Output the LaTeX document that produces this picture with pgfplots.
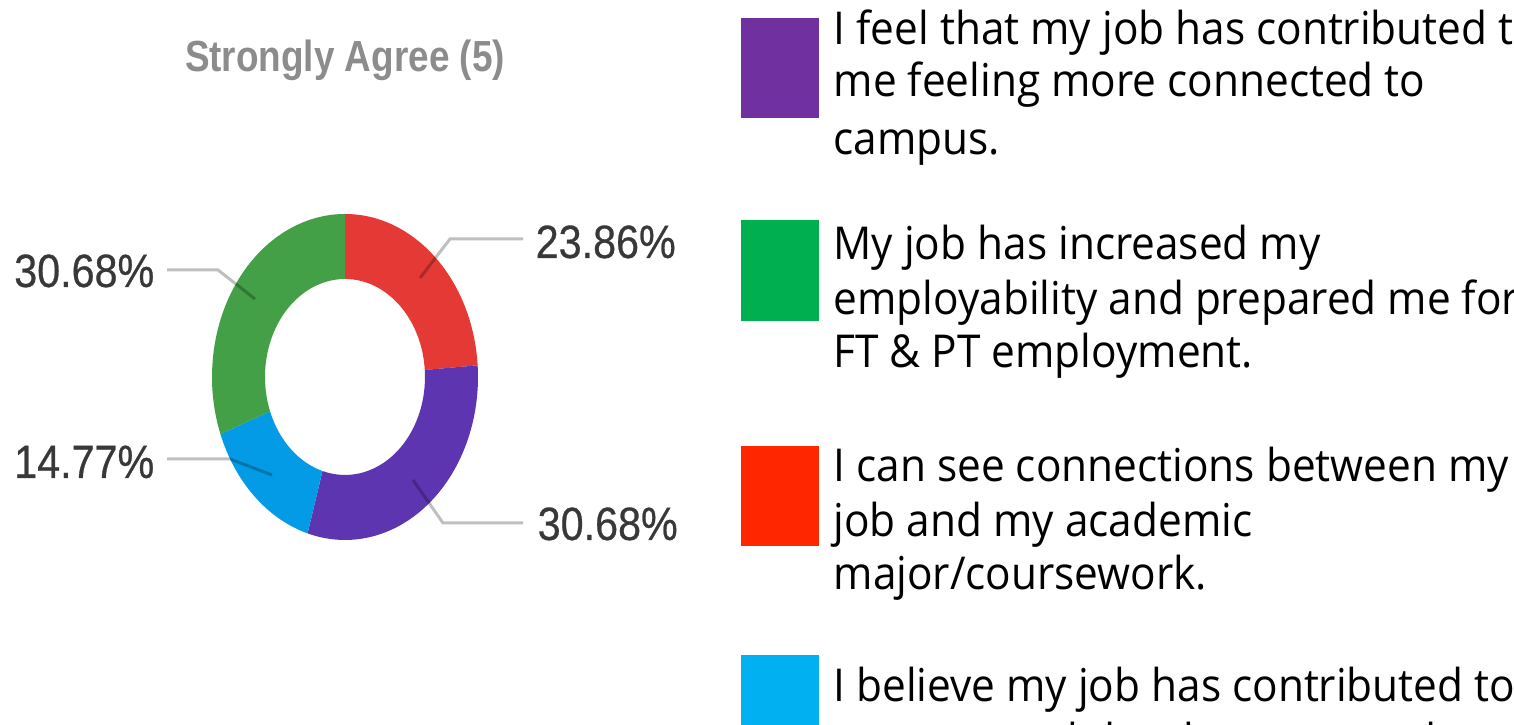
\documentclass[border=0pt]{standalone}
\usepackage{pgfplots}
\usepackage{pgfplotstable}
\pgfplotsset{compat=1.18}
\usepackage{graphicx}
\usepackage{fontspec}
\setmainfont{Open Sans}
\newfontfamily\labelfont{Liberation Sans}
\newfontfamily\pctfont[FakeBold=0.6]{Liberation Sans}

\definecolor{donutred}{HTML}{E53935}
\definecolor{donutpurple}{HTML}{5E35B1}
\definecolor{donutblue}{HTML}{039BE5}
\definecolor{donutgreen}{HTML}{43A047}
\definecolor{legpurple}{HTML}{7030A0}
\definecolor{leggreen}{HTML}{00B050}
\definecolor{legred}{HTML}{FF2600}
\definecolor{legblue}{HTML}{00B0F0}
\definecolor{pcttext}{HTML}{383838}
\definecolor{titletext}{HTML}{8C8C8C}

% shares in percent, clockwise from 12 o'clock
\pgfplotstableread{
share colour
23.86 donutred
30.68 donutpurple
14.77 donutblue
30.68 donutgreen
}\donutdata

\newcommand{\pct}[1]{{\pctfont\fontsize{11.75}{14}\selectfont\color{pcttext}\scalebox{1}[1.13]{#1}}}
\newcommand{\leg}[1]{{\fontsize{12.05}{14}\selectfont\scalebox{1}[1.07]{#1}}}

\begin{document}
\begin{tikzpicture}
\useasboundingbox (0,0) rectangle (15.14cm,7.25cm);
\clip (0,0) rectangle (15.14cm,7.25cm);
\begin{axis}[
    at={(0,0)}, anchor=south west,
    width=15.14cm, height=7.25cm, scale only axis,
    xmin=0, xmax=1514, ymin=0, ymax=725,
    hide axis, clip=false,
]
% ring segments
\pgfplotstablegetrowsof{\donutdata}
\pgfmathtruncatemacro\lastrow{\pgfplotsretval-1}
\def\cum{90}
\pgfplotsforeachungrouped \i in {0,...,\lastrow}{%
  \pgfplotstablegetelem{\i}{share}\of\donutdata \let\v\pgfplotsretval
  \pgfplotstablegetelem{\i}{colour}\of\donutdata \let\c\pgfplotsretval
  \pgfmathsetmacro\a{\cum}
  \pgfmathsetmacro\b{\cum-3.6*\v}
  \edef\temp{\noexpand\fill[\c] (axis cs:{345+133*cos(\a)},{348+163*sin(\a)})
    arc[start angle=\a, end angle=\b, x radius=133, y radius=163]
    -- (axis cs:{345+80*cos(\b)},{348+98*sin(\b)})
    arc[start angle=\b, end angle=\a, x radius=80, y radius=98] -- cycle;}
  \temp
  \global\let\cum\b
}

% leader lines
\draw[black, opacity=0.25, line width=0.85pt] (axis cs:523,486) -- (axis cs:450,486) -- (axis cs:420,447);
\draw[black, opacity=0.25, line width=0.85pt] (axis cs:523,202) -- (axis cs:443,202) -- (axis cs:413,245);
\draw[black, opacity=0.25, line width=0.85pt] (axis cs:167,455) -- (axis cs:218,455) -- (axis cs:255,426);
\draw[black, opacity=0.25, line width=0.85pt] (axis cs:167,266) -- (axis cs:230,266) -- (axis cs:272,250);

% percentage labels
\node[anchor=base west, inner sep=0] at (axis cs:535,467) {\pct{23.86\%}};
\node[anchor=base west, inner sep=0] at (axis cs:537,185) {\pct{30.68\%}};
\node[anchor=base east, inner sep=0] at (axis cs:155,438) {\pct{30.68\%}};
\node[anchor=base east, inner sep=0] at (axis cs:155,247) {\pct{14.77\%}};

% title
\node[anchor=base, inner sep=0] at (axis cs:345,653)
  {\labelfont\bfseries\fontsize{10.5}{12}\selectfont\color{titletext}\scalebox{1}[1.18]{Strongly Agree (5)}};

% legend
\fill[legpurple] (axis cs:741,607) rectangle (axis cs:819,707);
\fill[leggreen]  (axis cs:741,404) rectangle (axis cs:819,505);
\fill[legred]    (axis cs:741,179) rectangle (axis cs:819,279);
\fill[legblue]   (axis cs:741,-30) rectangle (axis cs:819,70);

\node[anchor=base west, inner sep=0] at (axis cs:833,680) {\leg{I feel that my job has contributed to}};
\node[anchor=base west, inner sep=0] at (axis cs:833,628) {\leg{me feeling more connected to}};
\node[anchor=base west, inner sep=0] at (axis cs:833,570) {\leg{campus.}};
\node[anchor=base west, inner sep=0] at (axis cs:833,465) {\leg{My job has increased my}};
\node[anchor=base west, inner sep=0] at (axis cs:833,410) {\leg{employability and prepared me for}};
\node[anchor=base west, inner sep=0] at (axis cs:833,357) {\leg{FT \& PT employment.}};
\node[anchor=base west, inner sep=0] at (axis cs:833,243) {\leg{I can see connections between my}};
\node[anchor=base west, inner sep=0] at (axis cs:833,188) {\leg{job and my academic}};
\node[anchor=base west, inner sep=0] at (axis cs:833,135) {\leg{major/coursework.}};
\node[anchor=base west, inner sep=0] at (axis cs:833,23)  {\leg{I believe my job has contributed to}};
\node[anchor=base west, inner sep=0] at (axis cs:833,-32) {\leg{my personal development and growth.}};
\end{axis}
\end{tikzpicture}
\end{document}
